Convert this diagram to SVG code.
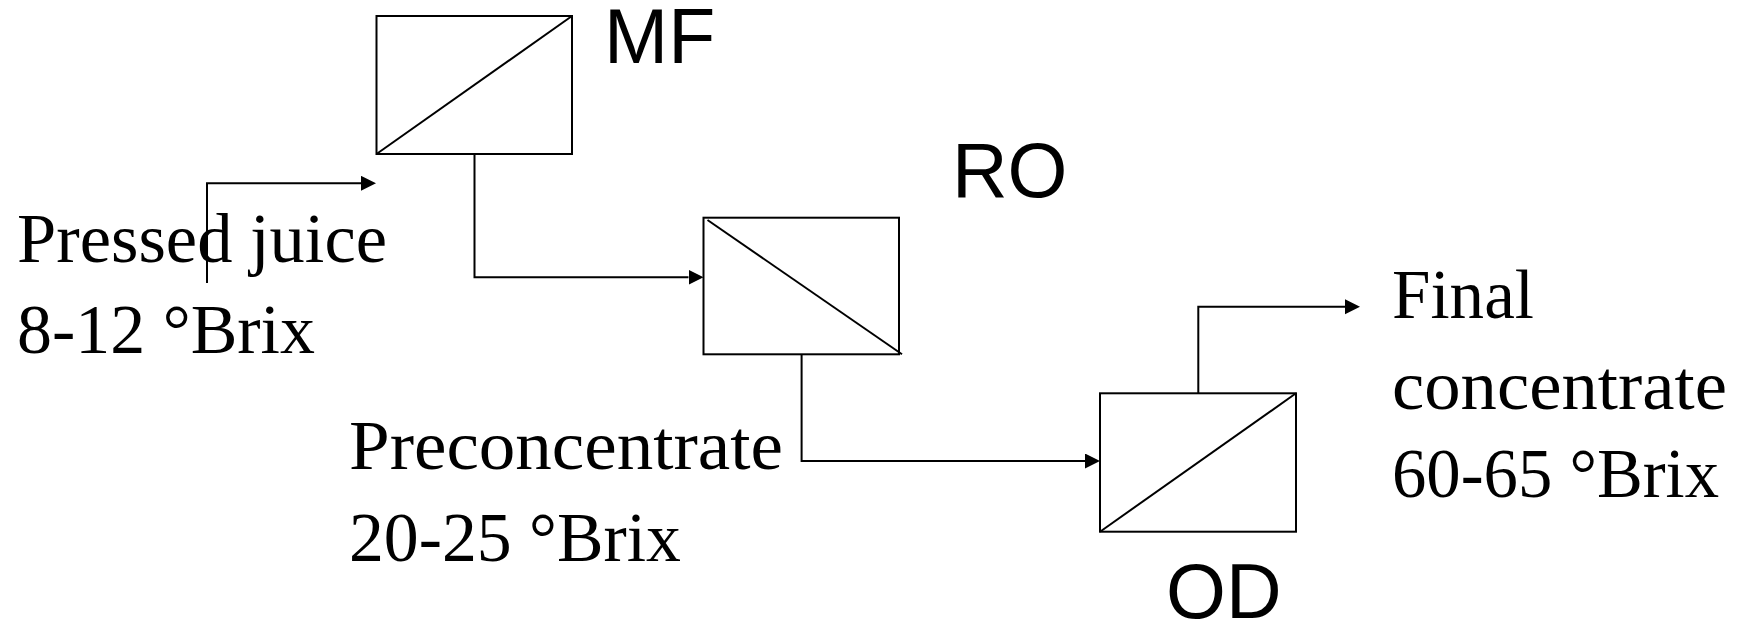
<svg xmlns="http://www.w3.org/2000/svg" width="1744" height="622" viewBox="0 0 1744 622">
<style>
.box{fill:#fff;stroke:#000;stroke-width:2}
.diag{stroke:#000;stroke-width:2;fill:none}
.conn{stroke:#000;stroke-width:2;fill:none}
.lbl{font-family:"Liberation Sans",Arial,sans-serif;font-size:77px;fill:#000}
.txt{font-family:"Liberation Serif","Times New Roman",serif;font-size:70px;fill:#000}
</style>
<defs>
<marker id="arr" markerUnits="userSpaceOnUse" markerWidth="16" markerHeight="16" refX="0" refY="7.5" orient="auto" viewBox="0 0 16 16">
<path d="M0,0 L15,7.5 L0,15 z" fill="#000"/>
</marker>
</defs>
<g id="MF">
<rect class="box" x="376.5" y="16" width="195.5" height="138"/>
<line class="diag" x1="376.5" y1="154" x2="572" y2="16"/>
<text class="lbl" x="604" y="62.5">MF</text>
</g>
<g id="RO">
<rect class="box" x="703.5" y="217.7" width="195.5" height="136.6"/>
<line class="diag" x1="707.5" y1="220" x2="902" y2="354.3"/>
<text class="lbl" x="952" y="197">RO</text>
</g>
<g id="OD">
<rect class="box" x="1100" y="393.3" width="196" height="138.4"/>
<line class="diag" x1="1100" y1="531.7" x2="1296" y2="393.3"/>
<text class="lbl" x="1166" y="618">OD</text>
</g>
<g id="labels">
<text class="txt" x="17" y="262" textLength="370" lengthAdjust="spacingAndGlyphs">Pressed juice</text>
<text class="txt" x="17" y="353" textLength="298" lengthAdjust="spacingAndGlyphs">8-12 °Brix</text>
<text class="txt" x="349" y="469.3" textLength="434" lengthAdjust="spacingAndGlyphs">Preconcentrate</text>
<text class="txt" x="349" y="561" textLength="332" lengthAdjust="spacingAndGlyphs">20-25 °Brix</text>
<text class="txt" x="1392" y="318.3" textLength="142" lengthAdjust="spacingAndGlyphs">Final</text>
<text class="txt" x="1392" y="409.3" textLength="335" lengthAdjust="spacingAndGlyphs">concentrate</text>
<text class="txt" x="1392" y="497.3" textLength="327" lengthAdjust="spacingAndGlyphs">60-65 °Brix</text>
</g>
<g id="connectors">
<polyline class="conn" points="207,283 207,183.3 361,183.3" marker-end="url(#arr)"/>
<polyline class="conn" points="474.5,154 474.5,277.3 688.5,277.3" marker-end="url(#arr)"/>
<polyline class="conn" points="801.6,354.3 801.6,461 1085,461" marker-end="url(#arr)"/>
<polyline class="conn" points="1198.3,393.3 1198.3,306.7 1345,306.7" marker-end="url(#arr)"/>
</g>
</svg>
